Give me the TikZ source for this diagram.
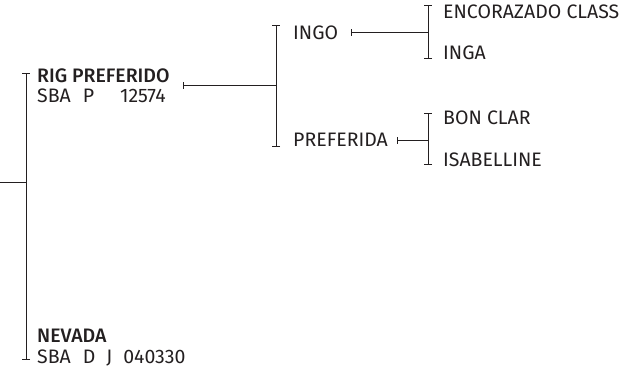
\documentclass[tikz,border=0pt]{standalone}
\usepackage{fontspec}
\setmainfont{Fira Sans}[BoldFont={* Medium}]
\usetikzlibrary{arrows.meta}
\definecolor{ink}{HTML}{231F20}
\tikzset{
  lbl/.style={anchor=west, inner sep=0pt, text=ink, font=\fontsize{19.5}{20.5}\selectfont, align=left},
  conn/.style={draw=ink, line width=1pt},
  startbar/.style={conn, {Bar[width=7pt,line width=1pt]}-},
  bothbar/.style={conn, {Bar[width=8pt,line width=1pt]}-{Bar[width=8pt,line width=1pt]}}
}
\begin{document}
\begin{tikzpicture}[x=1pt,y=-1pt]
\useasboundingbox (0,0) rectangle (642,373);
% nodes
\node[lbl] (rig) at (37,85.5) {\textbf{RIG PREFERIDO}\\SBA\hspace{12pt}P\hspace{26pt}12574};
\node[lbl] (nev) at (37,347.5) {\textbf{NEVADA}\\SBA\hspace{12pt}D\hspace{11pt}J\hspace{11pt}040330};
\node[lbl] (ingo) at (293,33) {INGO};
\node[lbl] (pref) at (293,140) {PREFERIDA};
\node[lbl] (enc) at (443,12) {ENCORAZADO CLASS};
\node[lbl] (inga) at (443,53) {INGA};
\node[lbl] (bon) at (443,118) {BON CLAR};
\node[lbl] (isa) at (443,160) {ISABELLINE};
% coordinates
\coordinate (root) at (0,182);
\coordinate (v0t) at (26,73);
\coordinate (v0b) at (26,360);
\coordinate (v0m) at (26,182);
\coordinate (rigt) at (183,85);
\coordinate (v1t) at (276,25);
\coordinate (v1b) at (276,147);
\coordinate (v1m) at (276,85);
\coordinate (ingot) at (351,32);
\coordinate (v2t) at (428,5);
\coordinate (v2b) at (428,59);
\coordinate (v2m) at (428,32);
\coordinate (preft) at (397,140);
\coordinate (v3t) at (428,113);
\coordinate (v3b) at (428,165);
\coordinate (v3m) at (428,140);
% connectors
\draw[conn] (root) -- (v0m);
\draw[bothbar] (v0t) -- (v0b);
\draw[startbar] (rigt) -- (v1m);
\draw[bothbar] (v1t) -- (v1b);
\draw[startbar] (ingot) -- (v2m);
\draw[bothbar] (v2t) -- (v2b);
\draw[startbar] (preft) -- (v3m);
\draw[bothbar] (v3t) -- (v3b);
\end{tikzpicture}
\end{document}
